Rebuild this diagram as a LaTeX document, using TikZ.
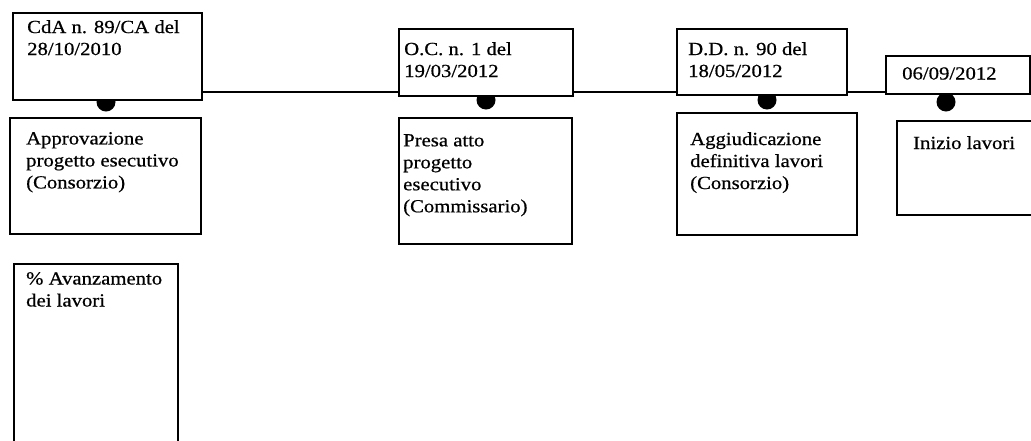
\documentclass[tikz,border=0pt]{standalone}
\usepackage{fontspec}
\setmainfont[FakeStretch=1.12, FakeBold=0.6]{Liberation Serif}
\tikzset{
    x=1pt, y=-1pt, % one unit is one pixel of the scan, y grows downwards
    every node/.style={font=\fontsize{18.5pt}{22pt}\selectfont}, % text size of the scan
    box/.style={draw, line width=1.6pt, fill=white, anchor=north west, inner sep=0pt}, % the framed boxes
    txt/.style={anchor=north west, align=left, inner sep=0pt}, % texts inside the boxes
    dot/.style={circle, fill=black, inner sep=0pt, minimum size=19pt}, % marks on the time line
    tline/.style={line width=1.3pt}, % the time line
}
\begin{document}
\begin{tikzpicture}
    \useasboundingbox (0,0) rectangle (1031,440);
    \coordinate (tl) at (0,92);
    % marks first, so that the boxes hide their tops
    \node[dot] (d1) at (106,102) {};
    \node[dot] (d2) at (486,100) {};
    \node[dot] (d3) at (767,100) {};
    \node[dot] (d4) at (946,102) {};
    % dates above the line
    \node[box, minimum width=189pt, minimum height=87pt] (cda) at (12,12) {};
    \node[box, minimum width=174pt, minimum height=67pt] (oc) at (398,28) {};
    \node[box, minimum width=170pt, minimum height=66pt] (dd) at (676,28) {};
    \node[box, minimum width=144pt, minimum height=38pt] (data) at (885,55) {};
    % events below the line
    \node[box, minimum width=191pt, minimum height=116pt] (appr) at (9,117) {};
    \node[box, minimum width=173pt, minimum height=126pt] (presa) at (398,117) {};
    \node[box, minimum width=180pt, minimum height=122pt] (aggiud) at (676,112) {};
    \node[box, minimum width=150pt, minimum height=94pt] (inizio) at (896,120) {};
    \node[box, minimum width=164pt, minimum height=190pt] (avanz) at (13,263) {};
    % texts
    \node[txt] (cdatxt) at ([shift={(15pt,-8pt)}]cda.north west) {CdA n. 89/CA del\\28/10/2010};
    \node[txt] (octxt) at ([shift={(6pt,-14pt)}]oc.north west) {O.C. n. 1 del\\19/03/2012};
    \node[txt] (ddtxt) at ([shift={(12pt,-14pt)}]dd.north west) {D.D. n. 90 del\\18/05/2012};
    \node[txt] (datatxt) at ([shift={(17pt,-12pt)}]data.north west) {06/09/2012};
    \node[txt] (apprtxt) at ([shift={(17pt,-15pt)}]appr.north west) {Approvazione\\progetto esecutivo\\(Consorzio)};
    \node[txt] (presatxt) at ([shift={(5pt,-17pt)}]presa.north west) {Presa atto\\progetto\\esecutivo\\(Commissario)};
    \node[txt] (aggiudtxt) at ([shift={(14pt,-20pt)}]aggiud.north west) {Aggiudicazione\\definitiva lavori\\(Consorzio)};
    \node[txt] (iniziotxt) at ([shift={(17pt,-16pt)}]inizio.north west) {Inizio lavori};
    \node[txt] (avanztxt) at ([shift={(13pt,-9pt)}]avanz.north west) {\% Avanzamento\\dei lavori};
    % the time line between the dates
    \draw[tline] (cda.east |- tl) -- (oc.west |- tl)
        (oc.east |- tl) -- (dd.west |- tl)
        (dd.east |- tl) -- (data.west |- tl);
\end{tikzpicture}
\end{document}
